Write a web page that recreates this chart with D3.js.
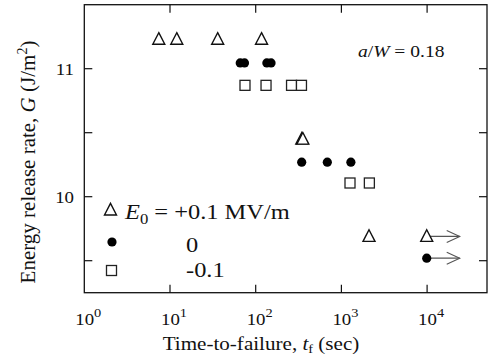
<!DOCTYPE html>
<html><head><meta charset="utf-8">
<script src="https://cdn.jsdelivr.net/npm/d3@7"></script>
<style>body{margin:0;background:#fff}svg{display:block}</style>
</head><body><svg id="c" width="489" height="361" font-family="Liberation Serif, Times New Roman, serif"></svg>
<script>
// Data: time-to-failure (sec), energy release rate G (J/m^2)
const triT = [7.4, 12, 36, 117, 345, 355, 2100, 9900];
const triG = [11.23, 11.23, 11.23, 11.23, 10.45, 10.45, 9.69, 9.69];
const cirT = [66, 74, 135, 151, 344, 685, 1290, 9900];
const cirG = [11.045, 11.045, 11.045, 11.045, 10.27, 10.27, 10.27, 9.52];
const sqT = [75, 132, 262, 342, 1260, 2120];
const sqG = [10.87, 10.87, 10.87, 10.87, 10.107, 10.107];
const arrowT = [9900, 9900];
const arrowG = [9.69, 9.52];
const xTicks = [1, 10, 100, 1000, 10000];
const xTickExp = ["0", "1", "2", "3", "4"];
const yMajor = [10, 11];
const yMinor = [9.5, 10.5];
const legendLabels = ["+0.1 MV/m", "0", "-0.1"];

const svg = d3.select("#c");
const x = d3.scaleLog().domain([1, 5e4]).range([84.3, 487]);
const y = d3.scaleLinear().domain([9.25, 11.5]).range([292.7, 4.7]);
const L = 84.3, R = 487, T = 4.7, B = 292.7;
const ink = "#111";
const SX = 1.11; // horizontal stretch of the reference's lettering

function txt(px, py, size, anchor) {
  return svg.append("g").attr("transform", `translate(${px},${py}) scale(${SX},1)`)
    .append("text").attr("x", 0).attr("y", 0).attr("font-size", size)
    .attr("text-anchor", anchor || "start").attr("fill", ink);
}

svg.append("rect").attr("x", L).attr("y", T).attr("width", R - L).attr("height", B - T)
  .attr("fill", "none").attr("stroke", ink).attr("stroke-width", 1.3);

const tk = 8;
const g = svg.append("g").attr("stroke", ink).attr("stroke-width", 1.2);
xTicks.forEach(v => {
  if (v === 1) return;
  g.append("line").attr("x1", x(v)).attr("x2", x(v)).attr("y1", B).attr("y2", B - tk);
  g.append("line").attr("x1", x(v)).attr("x2", x(v)).attr("y1", T).attr("y2", T + tk);
});
yMajor.concat(yMinor).forEach(v => {
  g.append("line").attr("x1", L).attr("x2", L + tk).attr("y1", y(v)).attr("y2", y(v));
  g.append("line").attr("x1", R).attr("x2", R - tk).attr("y1", y(v)).attr("y2", y(v));
});

xTicks.forEach((v, i) => {
  const t = txt(x(v) + 4, 325, 17, "middle");
  t.append("tspan").text("10");
  t.append("tspan").attr("dy", -8).attr("font-size", 13).text(xTickExp[i]);
});
yMajor.forEach(v => {
  txt(74, y(v) + 6, 17, "end").text(d3.format("d")(v));
});

const xt = txt(261, 350, 19, "middle");
xt.append("tspan").text("Time-to-failure, ");
xt.append("tspan").attr("font-style", "italic").text("t");
xt.append("tspan").attr("font-size", 13).attr("dy", 3).text("f");
xt.append("tspan").attr("dy", -3).text(" (sec)");

const yt = svg.append("text").attr("transform", "translate(35,162) rotate(-90)")
  .attr("text-anchor", "middle").attr("font-size", 21).attr("fill", ink);
yt.append("tspan").text("Energy release rate, ");
yt.append("tspan").attr("font-style", "italic").text("G");
yt.append("tspan").text(" (J/m");
yt.append("tspan").attr("font-size", 14).attr("dy", -8).text("2");
yt.append("tspan").attr("dy", 8).text(")");

const an = txt(358, 57, 17.6);
an.append("tspan").attr("font-style", "italic").text("a");
an.append("tspan").text("/");
an.append("tspan").attr("font-style", "italic").text("W");
an.append("tspan").text(" = 0.18");

const ag = svg.append("g").attr("stroke", "#555").attr("stroke-width", 1.1).attr("fill", "none");
arrowT.forEach((t, i) => {
  const x0 = x(t), y0 = y(arrowG[i]), x1 = x0 + 33;
  ag.append("line").attr("x1", x0).attr("x2", x1).attr("y1", y0).attr("y2", y0);
  ag.append("path").attr("d", `M${x1 - 13},${y0 - 6} L${x1},${y0} L${x1 - 13},${y0 + 6}`);
});

const triPath = (cx, cy, s) => `M${cx},${cy - s * 0.55} L${cx + s / 2},${cy + s * 0.42} L${cx - s / 2},${cy + s * 0.42} Z`;
const mk = svg.append("g");
triT.forEach((t, i) => {
  mk.append("path").attr("d", triPath(x(t), y(triG[i]), 12)).attr("fill", "#fff")
    .attr("stroke", ink).attr("stroke-width", 1.4);
});
cirT.forEach((t, i) => {
  mk.append("circle").attr("cx", x(t)).attr("cy", y(cirG[i])).attr("r", 4.6).attr("fill", "#000");
});
sqT.forEach((t, i) => {
  mk.append("rect").attr("x", x(t) - 5).attr("y", y(sqG[i]) - 5).attr("width", 10).attr("height", 10)
    .attr("fill", "#fff").attr("stroke", "#222").attr("stroke-width", 1.3);
});

svg.append("path").attr("d", triPath(110.5, 210, 12)).attr("fill", "#fff").attr("stroke", ink).attr("stroke-width", 1.4);
svg.append("circle").attr("cx", 112).attr("cy", 242).attr("r", 4.6).attr("fill", "#000");
svg.append("rect").attr("x", 106.5).attr("y", 265.5).attr("width", 10).attr("height", 10)
  .attr("fill", "#fff").attr("stroke", "#222").attr("stroke-width", 1.3);
const l1 = txt(125, 219, 22);
l1.append("tspan").attr("font-style", "italic").text("E");
l1.append("tspan").attr("font-size", 15).attr("dy", 5).text("0");
l1.append("tspan").attr("dy", -5).text(" = " + legendLabels[0]);
txt(186, 252, 22).text(legendLabels[1]);
txt(186, 277, 22).text(legendLabels[2]);
</script></body></html>
